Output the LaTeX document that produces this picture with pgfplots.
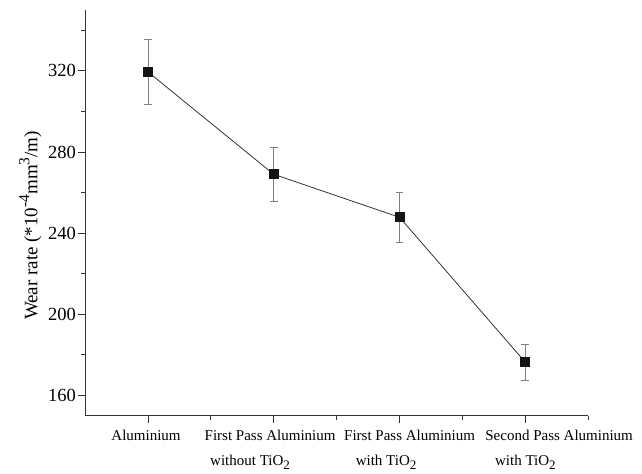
\documentclass[border=0pt]{standalone}
\usepackage{fontspec}
\setmainfont{Liberation Serif}
\usepackage{pgfplots}
\pgfplotsset{compat=1.18}
\definecolor{linegray}{HTML}{333333}
\definecolor{errgray}{HTML}{808080}
\tikzset{xlabelnode/.style={anchor=base, font=\fontsize{15bp}{18bp}\selectfont, inner sep=0pt}}
\newcommand{\subtwo}{\raisebox{-4bp}{\fontsize{13bp}{13bp}\selectfont 2}}
\newcommand{\sups}[1]{\raisebox{8bp}{\fontsize{15.5bp}{16bp}\selectfont #1}}
\begin{document}
\begin{tikzpicture}
\begin{axis}[
  at={(85bp,58.3bp)}, anchor=south west,
  scale only axis, width=503.3bp, height=405.7bp,
  axis lines*=left,
  axis line style={line width=0.9pt, black!80},
  xmin=0.5, xmax=4.5, ymin=150, ymax=350,
  xtick={1,2,3,4},
  minor xtick={1.5,2.5,3.5,4.5},
  xticklabels={,,,},
  ytick={160,200,240,280,320},
  minor ytick={180,220,260,300,340},
  tick align=outside,
  major tick length=7bp, minor tick length=4bp,
  every tick/.style={black!80, line width=0.8pt},
  /pgf/number format/assume math mode=true,
  yticklabel style={font=\fontsize{18.5bp}{20bp}\selectfont, inner sep=2bp},
  ylabel={Wear rate (*10\sups{-4}mm\sups{3}/m)},
  ylabel style={font=\fontsize{19bp}{21bp}\selectfont, at={(ticklabel cs:0.469)}, yshift=1bp},
  clip=false,
]
\addplot[color=linegray, line width=0.8pt, mark=square*, mark size=4.5bp,
  mark options={fill=black!92, draw=black!92},
  error bars/.cd, y dir=both, y explicit,
  error bar style={errgray, line width=0.8pt},
  error mark options={errgray, rotate=90, mark size=3.9bp, line width=0.8pt}]
coordinates {
  (1,319.5) +- (0,16)
  (2,269.0) +- (0,13.4)
  (3,247.8) +- (0,12.3)
  (4,176.3) +- (0,8.8)
};
\node[xlabelnode, yshift=-25bp] at (axis cs:0.985,150) {Aluminium};
\node[xlabelnode, yshift=-25bp] at (axis cs:1.971,150) {First Pass Aluminium};
\node[xlabelnode, yshift=-50bp] at (axis cs:1.812,150) {without TiO\subtwo};
\node[xlabelnode, yshift=-25bp] at (axis cs:3.08,150) {First Pass Aluminium};
\node[xlabelnode, yshift=-50bp] at (axis cs:2.893,150) {with TiO\subtwo};
\node[xlabelnode, yshift=-25bp] at (axis cs:4.268,150) {Second Pass Aluminium};
\node[xlabelnode, yshift=-50bp] at (axis cs:4.0,150) {with TiO\subtwo};
\end{axis}
\pgfresetboundingbox
\path[use as bounding box] (0,0) rectangle (642bp,474bp);
\end{tikzpicture}
\end{document}
